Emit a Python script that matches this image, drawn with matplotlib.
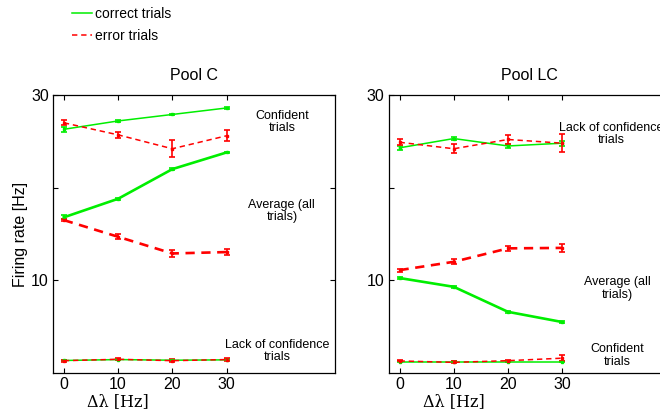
import numpy as np
import matplotlib
matplotlib.use("Agg")
import matplotlib.pyplot as plt
from matplotlib.lines import Line2D

plt.rcParams['font.family'] = ['Liberation Sans', 'DejaVu Sans']

dlam = [0, 10, 20, 30]

# Pool C
c_conf_ok = [26.3, 27.2, 27.9, 28.6]
c_conf_ok_err = [0.25, 0.15, 0.1, 0.1]
c_conf_err = [27.0, 25.7, 24.2, 25.6]
c_conf_err_err = [0.25, 0.35, 0.9, 0.6]
c_avg_ok = [16.8, 18.8, 22.0, 23.8]
c_avg_ok_err = [0.2, 0.1, 0.1, 0.1]
c_avg_err = [16.5, 14.7, 12.9, 13.05]
c_avg_err_err = [0.15, 0.25, 0.4, 0.3]
c_lack_ok = [1.35, 1.45, 1.38, 1.42]
c_lack_ok_err = [0.05, 0.05, 0.05, 0.05]
c_lack_err = [1.33, 1.48, 1.33, 1.45]
c_lack_err_err = [0.1, 0.1, 0.15, 0.2]

# Pool LC
lc_lack_ok = [24.3, 25.3, 24.5, 24.8]
lc_lack_ok_err = [0.25, 0.2, 0.2, 0.25]
lc_lack_err = [24.9, 24.2, 25.2, 24.8]
lc_lack_err_err = [0.3, 0.5, 0.5, 1.0]
lc_avg_err = [11.1, 12.0, 13.45, 13.5]
lc_avg_err_err = [0.15, 0.25, 0.3, 0.45]
lc_avg_ok = [10.25, 9.3, 6.6, 5.5]
lc_avg_ok_err = [0.15, 0.1, 0.1, 0.1]
lc_conf_ok = [1.2, 1.2, 1.2, 1.2]
lc_conf_ok_err = [0.05, 0.05, 0.05, 0.05]
lc_conf_err = [1.3, 1.15, 1.33, 1.6]
lc_conf_err_err = [0.05, 0.1, 0.1, 0.3]

GREEN = '#00ee00'
RED = '#ff0000'
DASH = (0, (3.5, 2.5))


def series(ax, y, e, color, ls, lw):
    ax.errorbar(dlam, y, yerr=e, color=color, linestyle=ls, linewidth=lw,
                elinewidth=1.2, capsize=2, capthick=1.2,
                marker='s', markersize=2, clip_on=False)


fig = plt.figure(figsize=(6.6, 4.12), dpi=100)
ax1 = fig.add_axes([53 / 660, 1 - 373 / 412, 282 / 660, 278 / 412])
ax2 = fig.add_axes([388.7 / 660, 1 - 373 / 412, 282 / 660, 278 / 412])

series(ax1, c_conf_ok, c_conf_ok_err, GREEN, '-', 1.1)
series(ax1, c_conf_err, c_conf_err_err, RED, DASH, 1.1)
series(ax1, c_avg_ok, c_avg_ok_err, GREEN, '-', 1.9)
series(ax1, c_avg_err, c_avg_err_err, RED, DASH, 1.9)
series(ax1, c_lack_ok, c_lack_ok_err, GREEN, '-', 1.1)
series(ax1, c_lack_err, c_lack_err_err, RED, DASH, 1.1)

series(ax2, lc_lack_ok, lc_lack_ok_err, GREEN, '-', 1.1)
series(ax2, lc_lack_err, lc_lack_err_err, RED, DASH, 1.1)
series(ax2, lc_avg_err, lc_avg_err_err, RED, DASH, 1.9)
series(ax2, lc_avg_ok, lc_avg_ok_err, GREEN, '-', 1.9)
series(ax2, lc_conf_ok, lc_conf_ok_err, GREEN, '-', 1.1)
series(ax2, lc_conf_err, lc_conf_err_err, RED, DASH, 1.1)

for ax, title in [(ax1, 'Pool C'), (ax2, 'Pool LC')]:
    ax.set_xlim(-2, 50)
    ax.set_ylim(0, 30)
    ax.set_xticks(dlam)
    ax.set_yticks([10, 20, 30])
    ax.set_yticklabels(['10', '', '30'])
    ax.tick_params(direction='in', length=3.5, width=0.8, labelsize=11.5,
                   top=True, right=True, pad=3)
    for s in ax.spines.values():
        s.set_linewidth(0.9)
    ax.set_title(title, fontsize=11.5, pad=11)
    ax.text(10, -3.05, 'Δλ [Hz]', ha='center', va='center', fontsize=11.5,
            family=['DejaVu Serif'])

ax1.set_ylabel('Firing rate [Hz]', fontsize=11.5, labelpad=2)

tkw = dict(ha='center', va='center', fontsize=9, linespacing=1.05)
ax1.text(40.2, 27.1, 'Confident\ntrials', **tkw)
ax1.text(40.2, 17.5, 'Average (all\ntrials)', **tkw)
ax1.text(39.3, 2.4, 'Lack of confidence\ntrials', **tkw)
ax2.text(39.1, 25.8, 'Lack of confidence\ntrials', **tkw)
ax2.text(40.2, 9.1, 'Average (all\ntrials)', **tkw)
ax2.text(40.1, 1.9, 'Confident\ntrials', **tkw)

handles = [Line2D([], [], color=GREEN, lw=1.1),
           Line2D([], [], color=RED, lw=1.1, linestyle=DASH)]
fig.legend(handles, ['correct trials', 'error trials'], loc='upper left',
           bbox_to_anchor=(72 / 660, 1 - 7 / 412), frameon=False,
           fontsize=10, handlelength=1.45, handletextpad=0.2,
           labelspacing=0.55, borderpad=0, borderaxespad=0)

fig.savefig('out.png', dpi=100)
